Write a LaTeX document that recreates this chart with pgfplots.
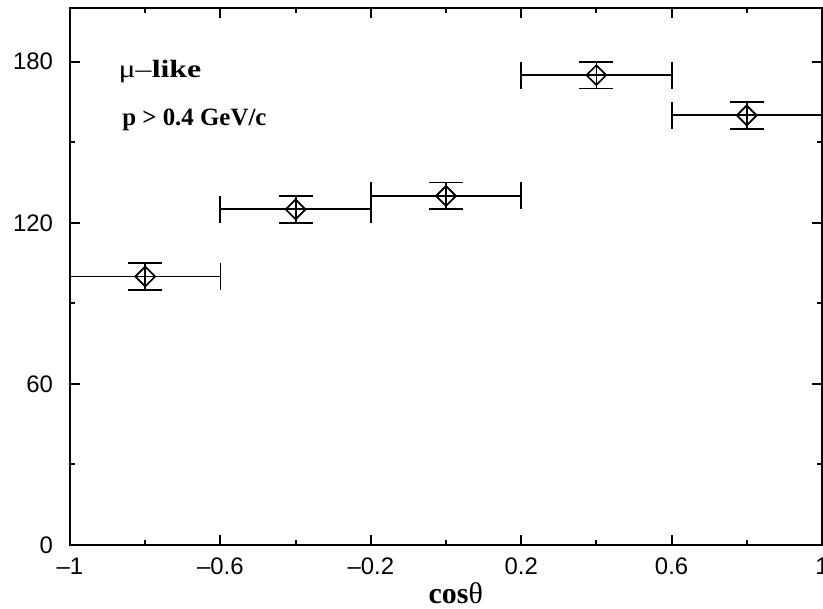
\documentclass[border=0pt]{standalone}
\usepackage{pgfplots}
\pgfplotsset{compat=1.18}
\usepackage{fontspec}
\setmainfont{Liberation Serif}
\setsansfont{Liberation Sans}
\pgfplotstableread{
x     y    ex   ey
-0.8  100  0.2  5
-0.4  125  0.2  5
0.0   130  0.2  5
0.4   175  0.2  5
0.8   160  0.2  5
}\datatab
\begin{document}
\begin{tikzpicture}
\begin{axis}[
  at={(0,0)}, anchor=south west,
  scale only axis, width=376bp, height=268.5bp,
  xmin=-1, xmax=1, ymin=0, ymax=200,
  xtick={-1,-0.6,-0.2,0.2,0.6,1},
  xticklabels={–1,–0.6,–0.2,0.2,0.6,1},
  minor xtick={-0.8,-0.4,0,0.4,0.8},
  ytick={0,60,120,180},
  yticklabels={0,60,120,180},
  minor ytick={30,90,150},
  tick align=inside,
  major tick length=5bp, minor tick length=2.5bp,
  tick style={black, line width=1bp},
  axis line style={line width=1bp},
  ticklabel style={font=\sffamily\fontsize{12}{12}\selectfont},
  xticklabel style={yshift=-3bp},
  yticklabel style={xshift=-5bp},
  /pgf/number format/assume math mode=true,
  xlabel={\textbf{cos}θ},
  xlabel style={font=\fontsize{15}{15}\selectfont, at={(axis description cs:0.513,0)}, anchor=base, inner sep=0, yshift=-29bp},
  dmark/.style={only marks, mark=square, mark size=3.5bp, mark options={rotate=45, line width=0.75bp, fill=none, draw=black}},
]
\addplot[black, line width=0.9bp, dmark, forget plot,
  error bars/.cd,
    x dir=both, x explicit,
    error mark=|,
    error bar style={line width=0.9bp},
    error mark options={mark size=6.75bp, line width=0.9bp},
] table[x=x, y=y, x error=ex] {\datatab};
\addplot[black, line width=0.9bp, dmark,
  error bars/.cd,
    y dir=both, y explicit,
    error mark=|,
    error bar style={line width=0.9bp},
    error mark options={mark size=8.5bp, line width=0.9bp},
] table[x=x, y=y, y error=ey] {\datatab};
\node[anchor=base west, inner sep=0, font=\fontsize{12.5}{12.5}\selectfont] at (rel axis cs:0.064,0.870) {\scalebox{1.28}[1]{μ–\textbf{like}}};
\node[anchor=base west, inner sep=0, font=\fontsize{12.5}{12.5}\selectfont\bfseries] at (rel axis cs:0.069,0.782) {p > 0.4 GeV/c};
\end{axis}
\pgfresetboundingbox
\path[use as bounding box] (-35bp,-32bp) rectangle (376.5bp,272.5bp);
\end{tikzpicture}
\end{document}
